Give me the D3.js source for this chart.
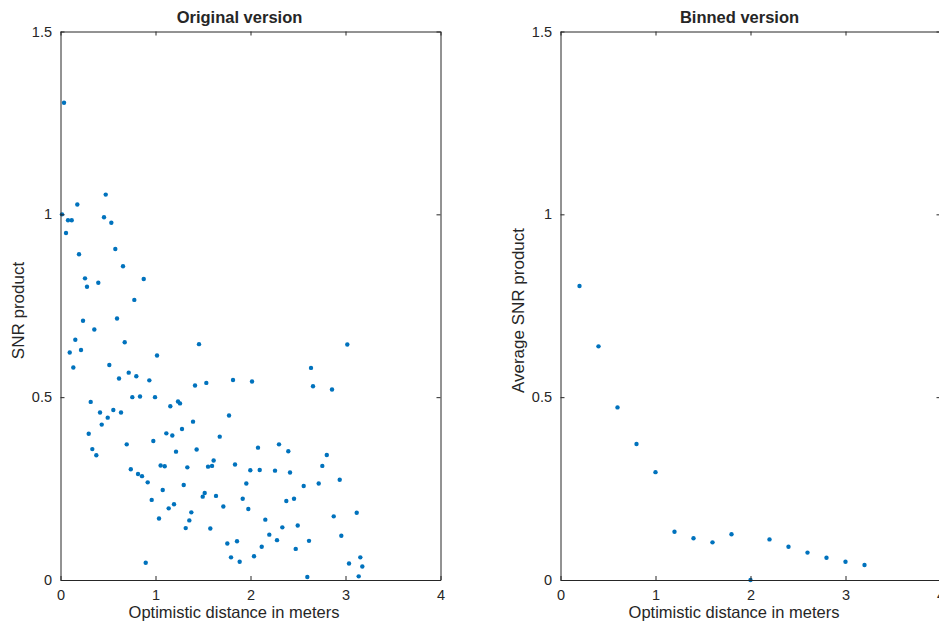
<!DOCTYPE html>
<html>
<head>
<meta charset="utf-8">
<script src="https://cdn.jsdelivr.net/npm/d3@7"></script>
<style>
  html, body { margin: 0; padding: 0; background: #fff; }
  svg { display: block; }
  text { font-family: "Liberation Sans", Arial, Helvetica, sans-serif; fill: #262626; }
</style>
</head>
<body>
<svg id="fig" width="939" height="625"></svg>
<script>
// Raw measurements: optimistic distance (m) and SNR product
const origX = [0.037,0.476,0.177,0.016,0.458,0.079,0.118,0.535,0.058,0.577,0.195,0.658,0.258,0.876,0.279,0.398,0.777,0.237,0.595,0.356,
  0.676,0.156,0.097,0.216,1.458,1.016,0.135,0.514,0.718,0.616,0.798,0.935,1.816,1.416,1.535,0.756,0.837,0.995,0.318,1.156,
  1.237,1.258,0.416,0.556,0.637,0.497,1.774,0.434,1.395,1.279,0.297,1.114,1.177,1.676,0.697,0.977,0.335,1.216,1.433,0.377,
  0.740,1.054,1.097,1.335,1.553,1.595,1.612,1.837,0.816,0.858,0.918,1.297,1.076,1.518,1.497,1.637,0.960,1.714,1.139,1.195,
  1.377,1.037,1.356,1.318,1.577,1.756,1.858,1.795,1.886,0.897,3.019,2.637,2.016,2.658,2.858,2.079,2.300,2.398,2.803,1.998,
  2.097,2.258,2.416,2.756,1.956,2.560,2.718,2.939,1.918,2.377,2.458,1.977,3.118,2.876,2.156,2.335,2.497,2.198,2.956,2.279,
  2.616,2.118,2.476,2.037,3.156,3.037,3.177,2.598,3.139];
const origY = [1.305,1.054,1.027,1.000,0.992,0.984,0.984,0.977,0.949,0.905,0.891,0.858,0.825,0.823,0.802,0.813,0.766,0.709,0.715,0.685,
  0.650,0.657,0.622,0.629,0.645,0.614,0.581,0.588,0.567,0.551,0.557,0.546,0.547,0.532,0.539,0.500,0.502,0.500,0.487,0.475,
  0.488,0.483,0.458,0.465,0.458,0.444,0.450,0.425,0.433,0.413,0.400,0.401,0.395,0.392,0.371,0.380,0.358,0.351,0.357,0.341,
  0.303,0.313,0.311,0.308,0.310,0.312,0.327,0.316,0.290,0.284,0.267,0.260,0.246,0.238,0.228,0.230,0.219,0.201,0.196,0.207,
  0.185,0.168,0.163,0.142,0.141,0.100,0.106,0.062,0.050,0.047,0.644,0.580,0.543,0.530,0.521,0.362,0.371,0.352,0.342,0.300,
  0.301,0.299,0.294,0.312,0.264,0.257,0.264,0.274,0.222,0.216,0.222,0.194,0.184,0.174,0.165,0.144,0.149,0.124,0.121,0.109,
  0.107,0.091,0.085,0.065,0.062,0.045,0.037,0.008,0.010];

// Bin centres (0.2 m bins) and mean SNR product per bin
const binX = [0.2,0.4,0.6,0.8,1.0,1.2,1.4,1.6,1.8,2.0,2.2,2.4,2.6,2.8,3.0,3.2];
const binY = [0.804,0.639,0.472,0.372,0.295,0.132,0.114,0.103,0.125,0.0,0.111,0.091,0.075,0.061,0.050,0.041];

const xTicks = [0, 1, 2, 3, 4];
const yTicks = [0, 0.5, 1, 1.5];

const svg = d3.select("#fig");
const axisColor = "#262626";
const dotColor = "#0072BD";

function panel(left, xs, ys, title, ylabel) {
  const w = 380, top = 31.5, bottom = 580;
  const x = d3.scaleLinear().domain([0, 4]).range([left, left + w]);
  const y = d3.scaleLinear().domain([0, 1.5]).range([bottom, top]);
  const g = svg.append("g");

  // points
  g.append("g").selectAll("circle")
    .data(xs.map((v, i) => [v, ys[i]]))
    .join("circle")
    .attr("cx", d => x(d[0]))
    .attr("cy", d => y(d[1]))
    .attr("r", 2.2)
    .attr("fill", dotColor);

  // bottom and left axes with inward ticks
  const ax = g.append("g").attr("transform", `translate(0,${bottom})`)
    .call(d3.axisBottom(x).tickValues(xTicks).tickFormat(d3.format("d")).tickSizeInner(-4).tickSizeOuter(0).tickPadding(10));
  const ay = g.append("g").attr("transform", `translate(${left},0)`)
    .call(d3.axisLeft(y).tickValues(yTicks).tickFormat(d => d === 0 ? "0" : d3.format("")(d)).tickSizeInner(-4).tickSizeOuter(0).tickPadding(8.5));
  // top and right box edges with ticks
  const at = g.append("g").attr("transform", `translate(0,${top})`)
    .call(d3.axisTop(x).tickValues(xTicks).tickFormat("").tickSizeInner(-4).tickSizeOuter(0));
  const ar = g.append("g").attr("transform", `translate(${left + w},0)`)
    .call(d3.axisRight(y).tickValues(yTicks).tickFormat("").tickSizeInner(-4).tickSizeOuter(0));

  [ax, ay, at, ar].forEach(a => {
    a.select(".domain").attr("stroke", axisColor).attr("stroke-width", 1);
    a.selectAll(".tick line").attr("stroke", axisColor);
    a.selectAll(".tick text").attr("font-size", 14.5).attr("fill", axisColor)
      .style("font-family", "'Liberation Sans', Arial, sans-serif");
  });

  g.append("text")
    .attr("x", left + w / 2 - 11).attr("y", 23)
    .attr("text-anchor", "middle")
    .attr("font-size", 16.5).attr("font-weight", "bold")
    .text(title);

  g.append("text")
    .attr("x", left + w / 2 - 16.5).attr("y", 618)
    .attr("text-anchor", "middle")
    .attr("font-size", 16.5)
    .text("Optimistic distance in meters");

  g.append("text")
    .attr("transform", `translate(${left - 36.5},310.5) rotate(-90)`)
    .attr("text-anchor", "middle")
    .attr("font-size", 17)
    .text(ylabel);
}

panel(60.5, origX, origY, "Original version", "SNR product");
panel(560.5, binX, binY, "Binned version", "Average SNR product");
</script>
</body>
</html>
